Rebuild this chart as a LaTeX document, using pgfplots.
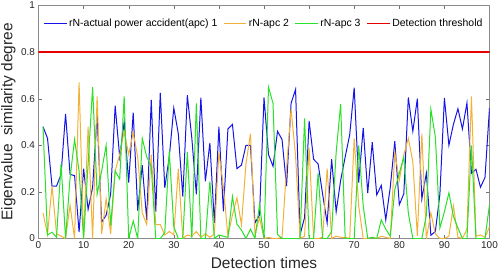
\documentclass[border=0pt]{standalone}
\usepackage{pgfplots}
\pgfplotsset{compat=1.18}
\usepackage{pgfplotstable}
\usepackage{fontspec}
\setmainfont{Liberation Sans}
\usetikzlibrary{calc}
\definecolor{cblue}{RGB}{20,20,230}
\definecolor{corange}{RGB}{242,178,55}
\definecolor{cgreen}{RGB}{40,225,40}
\definecolor{cred}{RGB}{230,0,0}

\pgfplotstableread{
x b o g
1 0.48 0.11 0.48
2 0.43 0.017 0.015
3 0.225 0.225 0.027
4 0.225 0.02 0.005
5 0.275 0.01 0.32
6 0.535 0.0 0.0
7 0.275 0.143 0.26
8 0.27 0.0 0.425
9 0.027 0.67 0.29
10 0.30 0.0 0.0
11 0.125 0.48 0.32
12 0.22 0.0 0.65
13 0.53 0.61 0.19
14 0.07 0.02 0.29
15 0.10 0.17 0.40
16 0.19 0.02 0.055
17 0.57 0.29 0.29
18 0.35 0.36 0.255
19 0.50 0.46 0.61
20 0.24 0.36 0.0
21 0.54 0.455 0.075
22 0.12 0.35 0.0
23 0.315 0.11 0.43
24 0.08 0.06 0.35
25 0.595 0.36 0.31
26 0.115 0.06 0.0
27 0.625 0.06 0.0
28 0.218 0.015 0.025
29 0.35 0.03 0.375
30 0.56 0.015 0.05
31 0.45 0.30 0.0
32 0.18 0.0 0.0
33 0.615 0.015 0.372
34 0.43 0.01 0.0
35 0.19 0.03 0.58
36 0.605 0.005 0.0
37 0.245 0.02 0.0
38 0.41 0.005 0.245
39 0.067 0.02 0.0
40 0.48 0.37 0.015
41 0.117 0.22 0.01
42 0.47 0.01 0.005
43 0.49 0.10 0.18
44 0.30 0.175 0.062
45 0.315 0.06 0.036
46 0.40 0.32 0.0
47 0.40 0.45 0.04
48 0.067 0.017 0.0
49 0.10 0.09 0.145
50 0.605 0.0 0.0
51 0.36 0.005 0.65
52 0.31 0.0 0.58
53 0.46 0.0 0.017
54 0.425 0.005 0.0
55 0.225 0.30 0.0
56 0.58 0.556 0.0
57 0.64 0.355 0.0
58 0.017 0.0 0.0
59 0.09 0.01 0.515
60 0.505 0.39 0.0
61 0.34 0.0 0.0
62 0.32 0.0 0.28
63 0.19 0.005 0.0
64 0.067 0.30 0.0
65 0.34 0.0 0.03
66 0.115 0.01 0.37
67 0.25 0.005 0.577
68 0.35 0.005 0.0
69 0.445 0.0 0.0
70 0.647 0.43 0.0
71 0.24 0.14 0.40
72 0.475 0.0 0.14
73 0.195 0.0 0.0
74 0.413 0.005 0.005
75 0.187 0.0 0.0
76 0.228 0.01 0.08
77 0.08 0.005 0.04
78 0.22 0.0 0.01
79 0.418 0.37 0.21
80 0.145 0.25 0.28
81 0.192 0.36 0.35
82 0.605 0.43 0.11
83 0.46 0.33 0.0
84 0.60 0.01 0.0
85 0.17 0.45 0.0
86 0.28 0.0 0.10
87 0.014 0.11 0.555
88 0.03 0.02 0.435
89 0.19 0.0 0.045
90 0.603 0.0 0.115
91 0.40 0.01 0.196
92 0.49 0.14 0.095
93 0.557 0.005 0.045
94 0.47 0.0 0.0
95 0.582 0.04 0.0
96 0.28 0.61 0.40
97 0.297 0.01 0.0
98 0.22 0.015 0.0
99 0.262 0.005 0.0
100 0.56 0.05 0.146
}\datatable

\begin{document}
\begin{tikzpicture}
\begin{axis}[
  name=ax,
  scale only axis,
  width=451bp, height=233bp,
  xmin=0, xmax=100, ymin=0, ymax=1,
  xtick={0,10,20,30,40,50,60,70,80,90,100},
  ytick={0,0.2,0.4,0.6,0.8,1},
  tick align=inside, tick pos=both,
  major tick length=4bp,
  axis line style={black!45},
  tick style={black!55},
  ticklabel style={font=\fontsize{10}{12}\selectfont, text=black!85},
  /pgf/number format/assume math mode=true,
  xlabel={Detection times},
  ylabel={Eigenvalue\ \ similarity degree},
  label style={font=\fontsize{15.5}{18}\selectfont, text=black!85},
  xlabel style={at={(axis description cs:0.5,-0.105)}, anchor=center},
  ylabel style={at={(axis description cs:-0.067,0.5)}, anchor=center},
  legend columns=4,
  legend style={draw=none, fill=none, inner sep=0pt,
    at={(axis description cs:0.01,0.923)}, anchor=west,
    font=\fontsize{10.5}{12}\selectfont,
    /tikz/every even column/.append style={column sep=3.5bp}},
]
\addlegendimage{legend image code/.code={\draw[cblue, line width=1.3pt] (0cm,0cm) -- (0.8cm,0cm);}}
\addlegendentry{rN-actual power accident(apc) 1}
\addlegendimage{legend image code/.code={\draw[corange, line width=1.3pt] (0cm,0cm) -- (0.8cm,0cm);}}
\addlegendentry{rN-apc 2}
\addlegendimage{legend image code/.code={\draw[cgreen, line width=1.3pt] (0cm,0cm) -- (0.8cm,0cm);}}
\addlegendentry{rN-apc 3}
\addlegendimage{legend image code/.code={\draw[cred, line width=1.6pt] (0cm,0cm) -- (0.8cm,0cm);}}
\addlegendentry{Detection threshold}
\addplot[color=cblue, line width=1pt, forget plot] table[x=x, y=b] {\datatable};
\addplot[color=corange, line width=1pt, forget plot] table[x=x, y=o] {\datatable};
\addplot[color=cgreen, line width=1pt, forget plot] table[x=x, y=g] {\datatable};
\addplot[color=cred, line width=1.6pt, forget plot] coordinates {(0,0.8) (100,0.8)};
\end{axis}
\pgfresetboundingbox
\path ($(ax.south west)+(-38.5bp,-34.5bp)$) rectangle ($(ax.north east)+(8.5bp,5.5bp)$);
\end{tikzpicture}
\end{document}
